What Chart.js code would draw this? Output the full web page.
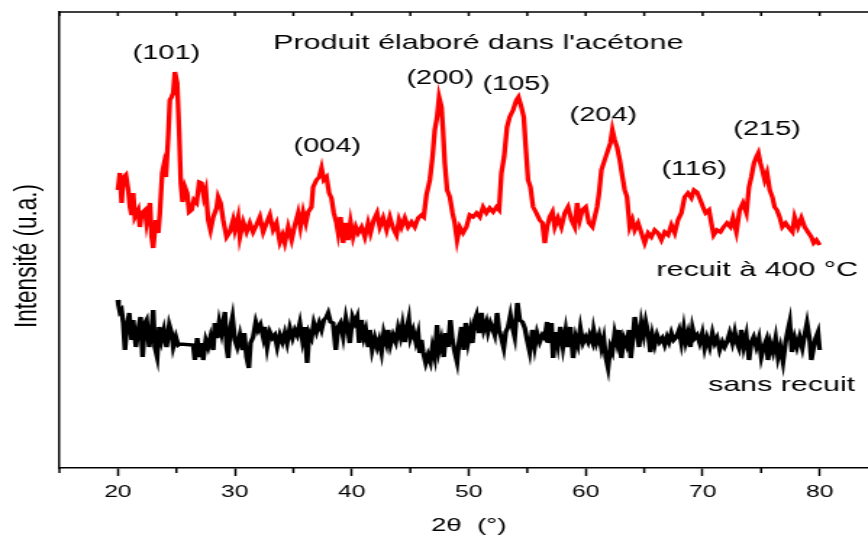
<!DOCTYPE html>
<html>
<head>
<meta charset="utf-8">
<title>DRX - produit élaboré dans l'acétone</title>
<script src="https://cdn.jsdelivr.net/npm/chart.js@4.4.1/dist/chart.umd.min.js"></script>
<style>
    html, body { margin: 0; padding: 0; background: #fff; overflow: hidden; }
    /* the figure is drawn narrow and stretched sideways */
    #wrap { width: 612px; height: 541px; transform: scaleX(1.449); transform-origin: 0 0; }
</style>
</head>
<body>
<div id="wrap"><canvas id="xrd" width="612" height="541"></canvas></div>
<script>
// Diffractogramme, recuit à 400 °C (2θ en degrés, intensité en u.a.)
const recuitTheta = [
    20.00, 20.17, 20.32, 20.45, 20.68, 20.88, 21.03, 21.17, 21.31, 21.45, 21.74, 21.88, 22.03, 22.31, 22.45,
    22.74, 22.88, 23.02, 23.25, 23.45, 23.59, 23.79, 23.93, 24.10, 24.30, 24.44, 24.59, 24.73, 24.87, 25.07,
    25.24, 25.38, 25.53, 25.73, 25.92, 26.09, 26.30, 26.50, 26.73, 26.95, 27.15, 27.35, 27.52, 27.72, 27.92,
    28.15, 28.44, 28.57, 28.78, 29.00, 29.29, 29.57, 29.85, 30.00, 30.28, 30.43, 30.71, 31.00, 31.28, 31.56,
    31.85, 32.14, 32.42, 32.71, 32.99, 33.27, 33.56, 33.85, 34.08, 34.27, 34.56, 34.85, 35.13, 35.41, 35.61,
    35.84, 36.07, 36.27, 36.55, 36.69, 36.98, 37.21, 37.41, 37.61, 37.84, 38.06, 38.26, 38.46, 38.69, 38.83,
    39.03, 39.26, 39.49, 39.68, 39.89, 40.11, 40.34, 40.54, 40.83, 41.11, 41.39, 41.60, 41.88, 42.16, 42.39,
    42.68, 42.97, 43.25, 43.53, 43.82, 44.04, 44.25, 44.53, 44.81, 45.10, 45.38, 45.67, 45.96, 46.15, 46.38,
    46.67, 46.90, 47.09, 47.29, 47.46, 47.67, 47.80, 47.95, 48.15, 48.38, 48.61, 48.80, 49.00, 49.23, 49.51,
    49.80, 50.09, 50.37, 50.66, 50.94, 51.22, 51.51, 51.79, 52.08, 52.37, 52.59, 52.79, 53.02, 53.27, 53.50,
    53.79, 54.08, 54.25, 54.50, 54.70, 54.87, 55.07, 55.27, 55.50, 55.78, 56.07, 56.30, 56.50, 56.69, 56.92,
    57.15, 57.35, 57.63, 57.92, 58.21, 58.49, 58.78, 59.06, 59.26, 59.49, 59.72, 60.00, 60.28, 60.57, 60.77,
    60.97, 61.14, 61.34, 61.62, 61.91, 62.11, 62.28, 62.48, 62.68, 62.91, 63.14, 63.33, 63.53, 63.76, 63.99,
    64.19, 64.48, 64.76, 65.04, 65.33, 65.61, 65.90, 66.18, 66.47, 66.75, 67.04, 67.32, 67.61, 67.89, 68.18,
    68.46, 68.74, 69.03, 69.26, 69.51, 69.80, 70.03, 70.26, 70.54, 70.74, 70.94, 71.22, 71.51, 71.79, 72.08,
    72.37, 72.59, 72.88, 73.16, 73.44, 73.74, 73.96, 74.16, 74.39, 74.59, 74.76, 74.93, 75.10, 75.30, 75.50,
    75.73, 75.96, 76.15, 76.35, 76.58, 76.81, 77.09, 77.38, 77.67, 77.86, 78.15, 78.44, 78.72, 79.00, 79.29,
    79.49, 79.72, 80.00
];
const recuitIntensity = [
    278, 295, 265, 290, 293, 278, 261, 253, 275, 251, 258, 241, 255, 258, 245,
    265, 231, 220, 248, 235, 255, 295, 303, 291, 331, 368, 371, 375, 396, 385,
    335, 285, 266, 281, 275, 256, 258, 268, 265, 286, 285, 271, 278, 248, 238,
    251, 260, 271, 265, 248, 231, 236, 248, 238, 251, 231, 246, 236, 245, 236,
    243, 251, 236, 245, 253, 238, 245, 226, 233, 225, 241, 228, 243, 255, 241,
    256, 245, 256, 261, 281, 288, 291, 300, 288, 291, 275, 270, 255, 245, 235,
    251, 225, 245, 228, 246, 231, 241, 235, 241, 231, 245, 235, 248, 255, 241,
    250, 238, 251, 240, 233, 248, 241, 250, 241, 246, 241, 250, 253, 251, 273,
    288, 311, 338, 351, 371, 361, 338, 305, 278, 271, 255, 245, 228, 241, 235,
    241, 253, 251, 255, 251, 261, 255, 260, 256, 261, 258, 295, 311, 341, 351,
    358, 368, 371, 361, 351, 321, 288, 281, 261, 255, 248, 245, 225, 241, 251,
    256, 241, 250, 241, 255, 261, 248, 241, 265, 248, 258, 261, 245, 241, 251,
    261, 275, 298, 308, 318, 325, 338, 328, 321, 308, 291, 278, 271, 241, 248,
    238, 245, 235, 225, 235, 231, 238, 235, 228, 236, 233, 243, 235, 248, 255,
    271, 275, 270, 278, 276, 268, 261, 255, 258, 245, 233, 238, 236, 241, 245,
    241, 250, 236, 258, 265, 255, 281, 291, 305, 311, 315, 305, 298, 288, 295,
    278, 271, 261, 258, 251, 241, 245, 240, 236, 251, 241, 250, 241, 236, 231,
    225, 228, 223
];

// Diffractogramme sans recuit
const sansTheta = [
    20.00, 20.05, 20.17, 20.31, 20.46, 20.60, 20.74, 20.97, 21.17, 21.31, 21.54, 21.74, 21.94, 22.11, 22.31,
    22.45, 22.68, 22.88, 23.02, 23.16, 23.36, 23.53, 23.73, 23.93, 24.16, 24.39, 24.59, 24.73, 24.96, 25.16,
    25.30, 26.44, 26.58, 26.78, 26.95, 27.15, 27.29, 27.52, 27.72, 27.92, 28.15, 28.29, 28.49, 28.66, 28.86,
    29.15, 29.29, 29.43, 29.63, 29.80, 30.00, 30.20, 30.43, 30.66, 30.80, 31.00, 31.20, 31.34, 31.57, 31.79,
    31.99, 32.19, 32.42, 32.56, 32.76, 32.99, 33.22, 33.42, 33.62, 33.85, 34.07, 34.27, 34.47, 34.70, 34.93,
    35.13, 35.33, 35.56, 35.78, 35.98, 36.18, 36.35, 36.55, 36.75, 36.98, 37.21, 37.41, 37.61, 37.83, 37.98,
    38.18, 38.40, 38.63, 38.83, 39.03, 39.26, 39.49, 39.69, 39.83, 40.06, 40.26, 40.46, 40.63, 40.83, 41.03,
    41.20, 41.40, 41.54, 41.74, 41.97, 42.17, 42.34, 42.54, 42.73, 42.96, 43.11, 43.30, 43.53, 43.76, 43.96,
    44.16, 44.33, 44.53, 44.67, 44.87, 45.01, 45.24, 45.47, 45.67, 45.81, 45.95, 46.10, 46.32, 46.52, 46.72,
    46.89, 47.09, 47.29, 47.46, 47.66, 47.86, 48.03, 48.23, 48.43, 48.60, 48.80, 49.00, 49.17, 49.37, 49.57,
    49.74, 49.94, 50.14, 50.31, 50.51, 50.66, 50.88, 51.08, 51.28, 51.51, 51.65, 51.85, 52.02, 52.22, 52.42,
    52.59, 52.79, 52.99, 53.16, 53.36, 53.56, 53.73, 53.93, 54.16, 54.36, 54.59, 54.79, 54.99, 55.21, 55.44,
    55.64, 55.84, 56.07, 56.30, 56.50, 56.70, 56.87, 57.07, 57.21, 57.44, 57.63, 57.83, 58.06, 58.29, 58.49,
    58.69, 58.92, 59.14, 59.34, 59.54, 59.77, 60.00, 60.20, 60.34, 60.57, 60.68, 60.91, 61.14, 61.34, 61.54,
    61.71, 61.91, 62.11, 62.28, 62.48, 62.68, 62.85, 63.05, 63.25, 63.48, 63.70, 63.85, 64.05, 64.19, 64.39,
    64.56, 64.76, 64.96, 65.13, 65.33, 65.53, 65.70, 65.90, 66.10, 66.32, 66.55, 66.75, 66.95, 67.12, 67.32,
    67.52, 67.75, 67.98, 68.18, 68.38, 68.55, 68.75, 68.95, 69.12, 69.32, 69.52, 69.74, 69.97, 70.17, 70.37,
    70.60, 70.83, 71.03, 71.23, 71.45, 71.68, 71.88, 72.08, 72.31, 72.54, 72.74, 72.93, 73.10, 73.30, 73.50,
    73.73, 73.96, 74.16, 74.36, 74.59, 74.81, 75.01, 75.21, 75.44, 75.58, 75.78, 76.01, 76.24, 76.44, 76.64,
    76.87, 77.09, 77.29, 77.44, 77.63, 77.86, 78.06, 78.29, 78.52, 78.72, 78.92, 79.15, 79.29, 79.49, 79.66,
    79.86, 80.00
];
const sansIntensity = [
    168, 163, 156, 158, 145, 118, 138, 155, 128, 148, 121, 138, 151, 111, 145,
    148, 121, 138, 158, 121, 111, 141, 128, 138, 121, 143, 135, 121, 131, 123,
    124, 123, 108, 130, 111, 125, 108, 128, 121, 131, 118, 145, 130, 146, 135,
    156, 121, 110, 141, 151, 128, 121, 133, 118, 135, 111, 100, 125, 131, 146,
    138, 143, 131, 141, 121, 136, 130, 133, 121, 133, 126, 135, 125, 140, 130,
    138, 133, 145, 128, 141, 105, 135, 130, 145, 136, 145, 138, 148, 151, 155,
    146, 145, 118, 141, 145, 131, 150, 138, 125, 151, 145, 151, 125, 148, 131,
    138, 121, 138, 118, 130, 121, 128, 116, 135, 125, 138, 123, 133, 126, 140,
    131, 143, 126, 138, 149, 130, 138, 126, 135, 115, 128, 116, 105, 113, 106,
    121, 111, 143, 118, 128, 111, 135, 121, 148, 128, 116, 106, 126, 141, 118,
    145, 126, 138, 125, 148, 153, 135, 155, 138, 146, 136, 145, 140, 133, 155,
    138, 130, 120, 136, 141, 153, 141, 131, 165, 148, 146, 140, 128, 116, 138,
    121, 135, 126, 133, 130, 146, 125, 145, 110, 136, 123, 141, 121, 138, 121,
    141, 110, 131, 123, 140, 125, 131, 126, 133, 126, 138, 125, 133, 120, 130,
    111, 100, 121, 116, 135, 125, 138, 110, 130, 123, 138, 110, 131, 151, 138,
    121, 145, 133, 146, 135, 116, 133, 123, 133, 126, 130, 123, 131, 126, 135,
    128, 131, 138, 125, 140, 126, 135, 121, 140, 130, 133, 125, 135, 120, 130,
    121, 135, 125, 130, 118, 126, 121, 126, 135, 125, 136, 125, 120, 138, 121,
    133, 108, 126, 131, 121, 130, 111, 121, 128, 108, 125, 116, 130, 111, 121,
    106, 126, 138, 146, 116, 130, 121, 131, 120, 133, 145, 128, 108, 121, 130,
    136, 118
];

// graduations de l'axe 2θ
const tickLabels = [20, 30, 40, 50, 60, 70, 80];

// indexation des pics (hkl) et position des étiquettes
const peakLabels = ['(101)', '(004)', '(200)', '(105)', '(204)', '(116)', '(215)'];
const peakLabelTheta = [24.15, 37.91, 47.56, 54.06, 61.5, 69.27, 75.51];
const peakLabelLevel = [415, 322, 390, 384, 353, 299, 339];

const FONT = '"Liberation Sans", Arial, sans-serif';

function toPoints(theta, intensity) {
    return theta.map((t, i) => ({ x: t, y: intensity[i] }));
}

// cadre du haut, petites graduations et textes
const decorations = {
    id: 'decorations',
    afterDraw(chart) {
        const { ctx, chartArea: area, scales: { x, y } } = chart;
        ctx.save();
        ctx.strokeStyle = '#000';
        ctx.lineWidth = 1.5;
        ctx.beginPath();
        ctx.moveTo(area.left, area.top);
        ctx.lineTo(chart.width, area.top);
        x.ticks.forEach(t => {
            const px = x.getPixelForValue(t.value);
            ctx.moveTo(px, area.top);
            ctx.lineTo(px, area.top + 4);
            if (!tickLabels.includes(t.value)) {
                ctx.moveTo(px, area.bottom);
                ctx.lineTo(px, area.bottom + 5);
            }
        });
        ctx.stroke();

        ctx.fillStyle = '#000';
        ctx.textAlign = 'center';
        ctx.textBaseline = 'middle';

        ctx.font = '20px ' + FONT;
        peakLabels.forEach((txt, i) => {
            ctx.fillText(txt, x.getPixelForValue(peakLabelTheta[i]), y.getPixelForValue(peakLabelLevel[i]));
        });

        ctx.font = '21px ' + FONT;
        ctx.fillText("Produit élaboré dans l'acétone", x.getPixelForValue(50.81), y.getPixelForValue(425));
        ctx.fillText('recuit à 400 °C', x.getPixelForValue(74.66), y.getPixelForValue(198));
        ctx.fillText('sans recuit', x.getPixelForValue(76.75), y.getPixelForValue(83));

        // titre de l'axe vertical
        ctx.translate(19, 256);
        ctx.rotate(-Math.PI / 2);
        ctx.font = '22.5px ' + FONT;
        ctx.fillText('Intensité (u.a.)', 0, 0);
        ctx.restore();
    }
};

const chart = new Chart(document.getElementById('xrd'), {
    type: 'line',
    data: {
        datasets: [
            {
                label: 'recuit à 400 °C',
                data: toPoints(recuitTheta, recuitIntensity),
                borderColor: '#ff0000',
                borderWidth: 3.3,
                pointRadius: 0,
                tension: 0
            },
            {
                label: 'sans recuit',
                data: toPoints(sansTheta, sansIntensity),
                borderColor: '#000000',
                borderWidth: 3.3,
                pointRadius: 0,
                tension: 0
            }
        ]
    },
    options: {
        responsive: false,
        animation: false,
        events: [],
        layout: { padding: { top: 12, right: 0, bottom: 0, left: 0 } },
        plugins: {
            legend: { display: false },
            tooltip: { enabled: false }
        },
        scales: {
            x: {
                type: 'linear',
                min: 15,
                max: 85,
                afterFit: scale => { scale.height = 73; },
                ticks: {
                    stepSize: 5,
                    autoSkip: false,
                    maxRotation: 0,
                    padding: 6,
                    color: '#000',
                    font: { family: FONT, size: 17 },
                    callback: v => tickLabels.includes(v) ? String(v) : ''
                },
                grid: {
                    drawOnChartArea: false,
                    drawTicks: true,
                    tickLength: 8,
                    tickWidth: 1.5,
                    tickColor: c => (c.tick && tickLabels.includes(c.tick.value)) ? '#000' : 'rgba(0,0,0,0)'
                },
                border: { display: true, color: '#000', width: 1.5 },
                title: {
                    display: true,
                    text: '2θ  (°)',
                    color: '#000',
                    font: { family: FONT, size: 19 },
                    padding: { top: 0, bottom: 4 }
                }
            },
            y: {
                min: 0,
                max: 456,
                afterFit: scale => { scale.width = 41; },
                ticks: { display: false },
                grid: { display: false },
                border: { display: true, color: '#000', width: 1.5 }
            }
        }
    },
    plugins: [decorations]
});
</script>
</body>
</html>
